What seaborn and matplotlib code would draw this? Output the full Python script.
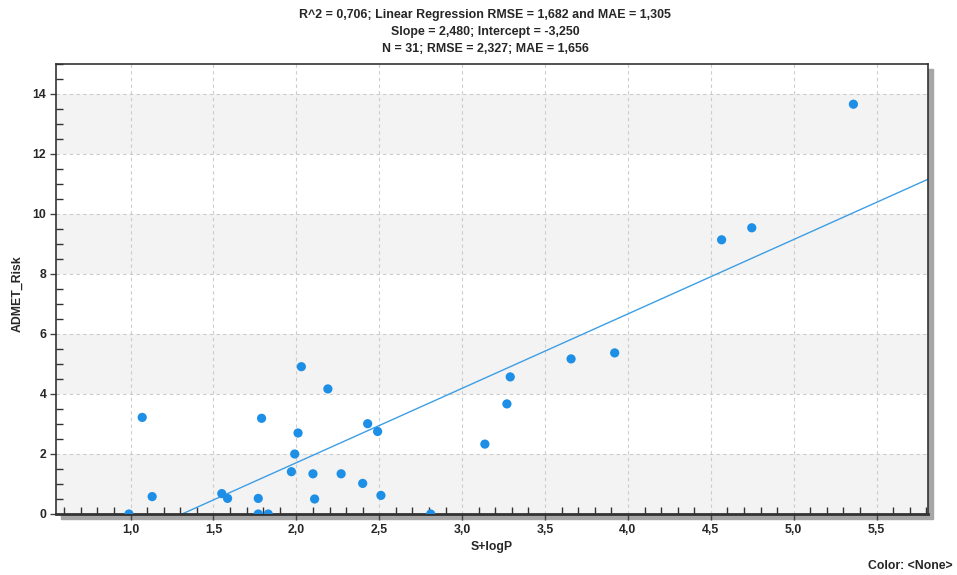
import numpy as np
import pandas as pd
import seaborn as sns
import matplotlib
matplotlib.use('Agg')  # sem display
import matplotlib.pyplot as plt
from matplotlib.ticker import MultipleLocator, FuncFormatter
from matplotlib.patches import Rectangle

sns.set_style('white')
plt.rcParams['font.family'] = ['Liberation Sans', 'DejaVu Sans']
plt.rcParams['font.weight'] = 'bold'

# valores
slogp = [0.99, 1.07, 1.13, 1.55, 1.585, 1.77, 1.77, 1.79, 1.83, 1.97,
         1.99, 2.01, 2.03, 2.10, 2.11, 2.19, 2.27, 2.40, 2.43, 2.49,
         2.51, 2.81, 3.137, 3.27, 3.29, 3.657, 3.92, 4.565, 4.747, 5.36]
admet_risk = [0.0, 3.22, 0.58, 0.68, 0.52, 0.52, 0.0, 3.19, 0.0, 1.41,
              2.0, 2.70, 4.91, 1.34, 0.50, 4.17, 1.34, 1.02, 3.01, 2.75,
              0.62, 0.0, 2.33, 3.67, 4.57, 5.17, 5.37, 9.14, 9.54, 13.66]

slope = 2.480
intercept = -3.250

titulo = ['R^2 = 0,706; Linear Regression RMSE = 1,682 and MAE = 1,305',
          'Slope = 2,480; Intercept = -3,250',
          'N = 31; RMSE = 2,327; MAE = 1,656']

df = pd.DataFrame({'S+logP': slogp, 'ADMET_Risk': admet_risk})

W, H = 957, 575
fig = plt.figure(figsize=(W / 100, H / 100), dpi=100)
ax = fig.add_axes([56 / W, 61 / H, 872 / W, 450 / H])
ax.set_zorder(1)

# sombra atras do painel
fig.add_artist(Rectangle((61 / W, 56 / H), 872 / W, 450 / H,
                         transform=fig.transFigure, color='#a6a6a6', zorder=0))

# faixas horizontais alternadas
for lo in [0, 4, 8, 12]:
    ax.axhspan(lo, lo + 2, color='#f3f3f3', lw=0, zorder=0)

sns.scatterplot(data=df, x='S+logP', y='ADMET_Risk', ax=ax,
                color='#1e8fe6', s=44, edgecolor='none', zorder=3)
ax.axline((0, intercept), slope=slope, color='#3d9ee5', lw=1, zorder=2)

ax.set_xlim(0.55, 5.81)
ax.set_ylim(0, 15)

ax.xaxis.set_major_locator(MultipleLocator(0.5))
ax.xaxis.set_minor_locator(MultipleLocator(0.1))
ax.yaxis.set_major_locator(MultipleLocator(2))
ax.yaxis.set_minor_locator(MultipleLocator(0.5))
ax.xaxis.set_major_formatter(FuncFormatter(lambda v, p: f'{v:.1f}'.replace('.', ',')))
ax.yaxis.set_major_formatter(FuncFormatter(lambda v, p: f'{v:.0f}'))

ax.tick_params(which='both', bottom=True, left=True, top=False, right=False)
ax.tick_params(which='major', direction='out', length=4, width=1,
               color='#444444', labelsize=8.8, pad=3)
ax.tick_params(which='minor', direction='in', length=5, width=1, color='#333333')
for lab in ax.get_xticklabels() + ax.get_yticklabels():
    lab.set_fontweight('bold')

ax.set_axisbelow(True)
ax.grid(True, which='major', ls=(0, (3, 3)), color='#cccccc', lw=0.8)

for s in ax.spines.values():
    s.set_color('#333333')
    s.set_linewidth(1.2)
ax.spines['bottom'].set_linewidth(2)

ax.set_xlabel('S+logP', fontsize=8.8, fontweight='bold', va='center')
ax.xaxis.set_label_coords(0.5, -33 / 450)
ax.set_ylabel('ADMET_Risk', fontsize=8.8, fontweight='bold', va='center')
ax.yaxis.set_label_coords(-39 / 872, 0.49)

for i, linha in enumerate(titulo):
    fig.text(485 / W, 1 - (15 + 17 * i) / H, linha, ha='center', va='center',
             fontsize=8.9, fontweight='bold')

fig.text(910 / W, 1 - 566 / H, 'Color: <None>', ha='center', va='center',
         fontsize=8.8, fontweight='bold')

fig.savefig('out.png', dpi=100)
plt.close()
